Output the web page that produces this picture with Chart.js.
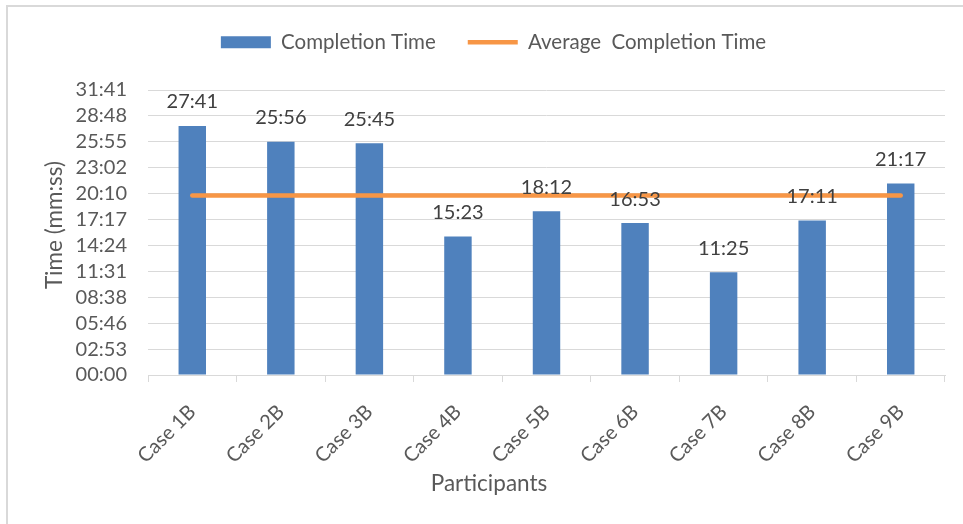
<!DOCTYPE html>
<html>
<head>
<meta charset="utf-8">
<title>Completion Time by Participant</title>
<script src="https://cdn.jsdelivr.net/npm/chart.js@4.4.1/dist/chart.umd.min.js"></script>
<style>
  html, body { margin: 0; padding: 0; background: #ffffff; }
  #wrap { position: relative; width: 963px; height: 524px; }
  canvas { display: block; }
</style>
</head>
<body>
<div id="wrap"><canvas id="chart" width="963" height="524"></canvas></div>
<script>
// Participants and their completion times (seconds)
const categories = ['Case 1B', 'Case 2B', 'Case 3B', 'Case 4B', 'Case 5B', 'Case 6B', 'Case 7B', 'Case 8B', 'Case 9B'];
const completionSeconds = [1661, 1556, 1545, 923, 1092, 1013, 685, 1031, 1277];
const averageSeconds = [1198, 1198, 1198, 1198, 1198, 1198, 1198, 1198, 1198];

// Time axis ticks (seconds) and their mm:ss labels
const yTickValues = [0, 172.8, 345.6, 518.4, 691.2, 864, 1036.8, 1209.6, 1382.4, 1555.2, 1728, 1900.8];
const yTickLabels = ['00:00', '02:53', '05:46', '08:38', '11:31', '14:24', '17:17', '20:10', '23:02', '25:55', '28:48', '31:41'];

const FONT = 'Lato';
const TEXT = '#595959';
const LABEL = '#404040';
const GRID = '#D9D9D9';
const PAD_LEFT = 42;

function toMmSs(sec) {
  const s = Math.round(sec);
  const m = Math.floor(s / 60);
  const r = s % 60;
  return String(m).padStart(2, '0') + ':' + String(r).padStart(2, '0');
}

// Light frame along the top and left edges
const framePlugin = {
  id: 'frame',
  beforeDraw(chart) {
    const ctx = chart.ctx;
    ctx.save();
    ctx.strokeStyle = GRID;
    ctx.lineWidth = 2;
    ctx.beginPath();
    ctx.moveTo(7, chart.height);
    ctx.lineTo(7, 6);
    ctx.lineTo(chart.width, 6);
    ctx.stroke();
    ctx.restore();
  }
};

// Value labels above each bar
const valueLabels = {
  id: 'valueLabels',
  afterDatasetsDraw(chart) {
    const ctx = chart.ctx;
    const meta = chart.getDatasetMeta(0);
    ctx.save();
    ctx.font = '20px ' + FONT;
    ctx.fillStyle = LABEL;
    ctx.textAlign = 'center';
    ctx.textBaseline = 'middle';
    meta.data.forEach((bar, i) => {
      ctx.fillText(toMmSs(completionSeconds[i]), bar.x, bar.y - 24);
    });
    ctx.restore();
  }
};

// Axis titles
const axisTitles = {
  id: 'axisTitles',
  afterDraw(chart) {
    const ctx = chart.ctx;
    ctx.save();
    ctx.font = '22.5px ' + FONT;
    ctx.fillStyle = TEXT;
    ctx.textAlign = 'center';
    ctx.textBaseline = 'middle';
    ctx.fillText('Participants', 489, 484);
    ctx.translate(55, 225);
    ctx.rotate(-Math.PI / 2);
    ctx.fillText('Time (mm:ss)', 0, 0);
    ctx.restore();
  }
};

// Reserve room under the legend
const legendSpace = {
  id: 'legendSpace',
  beforeInit(chart) {
    const legend = chart.legend;
    const fit = legend.fit;
    legend.fit = function () {
      fit.call(this);
      this.height = 90;
    };
  }
};

Chart.defaults.font.family = FONT;
Chart.defaults.font.size = 20;
Chart.defaults.color = TEXT;

new Chart(document.getElementById('chart'), {
  data: {
    labels: categories,
    datasets: [
      {
        type: 'bar',
        label: 'Completion Time',
        data: completionSeconds,
        backgroundColor: '#4F81BD',
        borderWidth: 0,
        barPercentage: 0.31,
        categoryPercentage: 1,
        order: 1
      },
      {
        type: 'line',
        label: 'Average  Completion Time',
        data: averageSeconds,
        borderColor: '#F79646',
        backgroundColor: '#F79646',
        borderWidth: 4.5,
        borderCapStyle: 'round',
        pointRadius: 0,
        pointHoverRadius: 0,
        fill: false,
        order: 0
      }
    ]
  },
  options: {
    responsive: false,
    animation: false,
    devicePixelRatio: 1,
    layout: { padding: { left: PAD_LEFT, right: 18, top: 0, bottom: 0 } },
    plugins: {
      legend: {
        position: 'top',
        labels: {
          usePointStyle: true,
          pointStyleWidth: 50,
          boxHeight: 12,
          padding: 32,
          color: TEXT,
          font: { size: 20.5 },
          sort: (a, b) => a.datasetIndex - b.datasetIndex,
          generateLabels(chart) {
            const items = Chart.defaults.plugins.legend.labels.generateLabels(chart);
            items.forEach(item => {
              item.pointStyle = item.datasetIndex === 0 ? 'rect' : 'line';
            });
            return items;
          }
        }
      },
      tooltip: { enabled: false }
    },
    scales: {
      x: {
        type: 'category',
        offset: true,
        grid: { offset: true, drawOnChartArea: false, drawTicks: true, tickLength: 7, color: GRID, lineWidth: 1 },
        border: { display: true, color: GRID, width: 1 },
        ticks: { minRotation: 45, maxRotation: 45, padding: 18, color: TEXT, font: { size: 20 } },
        afterFit(scale) { scale.height = 149; }
      },
      y: {
        min: 0,
        max: 1900.8,
        grid: { drawTicks: false, color: GRID, lineWidth: 1 },
        border: { display: false },
        ticks: {
          padding: 21,
          autoSkip: false,
          color: TEXT,
          font: { size: 20 },
          callback(value, index) { return yTickLabels[index]; }
        },
        afterBuildTicks(scale) {
          scale.ticks = yTickValues.map(v => ({ value: v }));
        },
        afterFit(scale) { scale.width = 148 - PAD_LEFT; }
      }
    }
  },
  plugins: [legendSpace, framePlugin, valueLabels, axisTitles]
});
</script>
</body>
</html>
